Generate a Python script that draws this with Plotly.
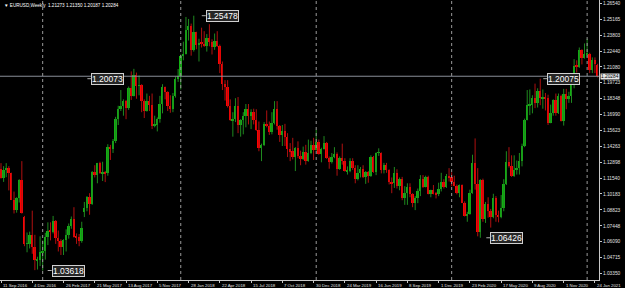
import pandas as pd
import plotly.graph_objects as go

# ---------------- data (EURUSD weekly) ----------------
start_week = "2016-09-11"
opens = [1.1233,1.1155,1.1226,1.1240,1.1200,1.0970,1.0885,1.0985,1.1140,1.0820,
         1.0590,1.0590,1.0665,1.0560,1.0450,1.0455,1.0520,1.0530,1.0645,1.0705,
         1.0695,1.0785,1.0640,1.0615,1.0560,1.0620,1.0670,1.0740,1.0800,1.0650,
         1.0645,1.0615,1.0860,1.0895,1.0995,1.0935,1.1205,1.1180,1.1280,1.1195,
         1.1200,1.1195,1.1425,1.1400,1.1470,1.1665,1.1750,1.1775,1.1820,1.1760,
         1.1925,1.1860,1.2035,1.1945,1.1950,1.1815,1.1730,1.1820,1.1785,1.1605,
         1.1610,1.1665,1.1790,1.1935,1.1895,1.1770,1.1750,1.1860,1.2005,1.2030,
         1.2200,1.2220,1.2425,1.2460,1.2250,1.2405,1.2295,1.2315,1.2305,1.2285,
         1.2355,1.2320,1.2280,1.2330,1.2290,1.2130,1.1960,1.1940,1.1770,1.1650,
         1.1660,1.1770,1.1610,1.1655,1.1685,1.1745,1.1685,1.1720,1.1655,1.1565,
         1.1410,1.1440,1.1620,1.1600,1.1550,1.1625,1.1745,1.1605,1.1525,1.1560,
         1.1510,1.1400,1.1385,1.1335,1.1415,1.1340,1.1315,1.1380,1.1305,1.1370,
         1.1440,1.1395,1.1465,1.1365,1.1405,1.1455,1.1325,1.1295,1.1335,1.1365,
         1.1235,1.1325,1.1300,1.1215,1.1215,1.1300,1.1245,1.1150,1.1200,1.1235,
         1.1160,1.1205,1.1170,1.1335,1.1210,1.1370,1.1370,1.1225,1.1270,1.1220,
         1.1125,1.1110,1.1200,1.1090,1.1145,1.0985,1.1030,1.1075,1.1020,1.0940,
         1.0980,1.1040,1.1145,1.1080,1.1165,1.1020,1.1050,1.1020,1.1015,1.1060,
         1.1120,1.1080,1.1175,1.1160,1.1120,1.1090,1.1025,1.1095,1.0945,1.0830,
         1.0845,1.1025,1.1285,1.1105,1.0695,1.1140,1.0805,1.0935,1.0875,1.0820,
         1.0980,1.0840,1.0820,1.0900,1.1100,1.1290,1.1255,1.1175,1.1220,1.1245,
         1.1300,1.1430,1.1655,1.1780,1.1785,1.1840,1.1795,1.1905,1.1840,1.1845,
         1.1840,1.1630,1.1715,1.1825,1.1715,1.1860,1.1645,1.1875,1.1835,1.1860,
         1.1960,1.2120,1.2110,1.2255,1.2185,1.2215,1.2220,1.2080,1.2170,1.21273]
highs = [1.1283,1.1257,1.1283,1.1257,1.1201,1.1039,1.0990,1.1145,1.1300,1.0830,
         1.0688,1.0695,1.0875,1.0668,1.0480,1.0655,1.0620,1.0685,1.0775,1.0775,
         1.0830,1.0795,1.0705,1.0630,1.0630,1.0715,1.0765,1.0825,1.0905,1.0680,
         1.0675,1.0780,1.0950,1.1000,1.1025,1.1215,1.1265,1.1285,1.1295,1.1295,
         1.1215,1.1445,1.1440,1.1490,1.1680,1.1775,1.1910,1.1830,1.1825,1.1940,
         1.2070,1.2092,1.2060,1.2035,1.1960,1.1830,1.1880,1.1860,1.1880,1.1690,
         1.1675,1.1860,1.1960,1.1940,1.1900,1.1865,1.1885,1.2025,1.2090,1.2215,
         1.2325,1.2537,1.2520,1.2480,1.25478,1.2410,1.2350,1.2445,1.2415,1.2390,
         1.2475,1.2345,1.2395,1.2415,1.2300,1.2155,1.1995,1.1995,1.1830,1.1720,
         1.1840,1.1850,1.1660,1.1720,1.1790,1.1790,1.1745,1.1750,1.1745,1.1640,
         1.1450,1.1635,1.1735,1.1640,1.1720,1.1815,1.1815,1.1610,1.1610,1.1620,
         1.1540,1.1455,1.1500,1.1420,1.1470,1.1390,1.1425,1.1440,1.1485,1.1475,
         1.1500,1.1570,1.1485,1.1415,1.1515,1.1465,1.1340,1.1370,1.1420,1.1375,
         1.1340,1.1450,1.1325,1.1255,1.1325,1.1325,1.1265,1.1265,1.1250,1.1265,
         1.1215,1.1215,1.1350,1.1345,1.1375,1.1410,1.1375,1.1285,1.1285,1.1230,
         1.1160,1.1250,1.1230,1.1160,1.1165,1.1085,1.1110,1.1110,1.1025,1.1000,
         1.1065,1.1180,1.1180,1.1175,1.1175,1.1055,1.1095,1.1035,1.1115,1.1200,
         1.1145,1.1190,1.1240,1.1205,1.1175,1.1100,1.1100,1.1100,1.0955,1.0865,
         1.1055,1.1355,1.1495,1.1240,1.1145,1.1150,1.0950,1.0990,1.0890,1.1020,
         1.1000,1.0875,1.1010,1.1145,1.1385,1.1420,1.1350,1.1350,1.1305,1.1370,
         1.1450,1.1665,1.1910,1.1915,1.1865,1.1965,1.1925,1.20075,1.1915,1.1885,
         1.1870,1.1785,1.1830,1.1880,1.1880,1.1870,1.1920,1.1920,1.1895,1.1965,
         1.2175,1.2165,1.2275,1.2260,1.2310,1.2350,1.2230,1.2190,1.2190,1.21350]
lows = [1.1150,1.1122,1.1162,1.1049,1.0966,1.0851,1.0858,1.0945,1.0850,1.0570,
        1.0518,1.0551,1.0505,1.0365,1.0370,1.0400,1.03618,1.0455,1.0580,1.0620,
        1.0680,1.0590,1.0525,1.0495,1.0495,1.0525,1.0635,1.0720,1.0645,1.0590,
        1.0570,1.0600,1.0820,1.0870,1.0840,1.0925,1.1160,1.1110,1.1190,1.1130,
        1.1120,1.1175,1.1310,1.1370,1.1455,1.1610,1.1730,1.1690,1.1660,1.1740,
        1.1825,1.1855,1.1835,1.1865,1.1720,1.1670,1.1725,1.1730,1.1575,1.1590,
        1.1555,1.1630,1.1710,1.1830,1.1730,1.1715,1.1720,1.1845,1.1980,1.1915,
        1.2165,1.2215,1.2335,1.2205,1.2240,1.2260,1.2155,1.2275,1.2280,1.2240,
        1.2285,1.2215,1.2255,1.2280,1.2055,1.1910,1.1820,1.1760,1.1645,1.1510,
        1.1635,1.1540,1.1510,1.1530,1.1590,1.1615,1.1575,1.1615,1.1560,1.1385,
        1.1300,1.1430,1.1590,1.1525,1.1530,1.1615,1.1570,1.1465,1.1430,1.1430,
        1.1335,1.1300,1.1315,1.1215,1.1325,1.1265,1.1310,1.1270,1.1295,1.1360,
        1.1310,1.1390,1.1355,1.1290,1.1400,1.1320,1.1235,1.1280,1.1325,1.1175,
        1.1225,1.1270,1.1210,1.1185,1.1205,1.1225,1.1110,1.1135,1.1160,1.1155,
        1.1105,1.1115,1.1165,1.1200,1.1180,1.1345,1.1195,1.1195,1.1200,1.1100,
        1.1025,1.1070,1.1065,1.1050,1.0965,1.0925,1.0925,1.0990,1.0905,1.0880,
        1.0940,1.1000,1.1070,1.1075,1.1015,1.0990,1.1015,1.0980,1.1000,1.1040,
        1.1065,1.1070,1.1125,1.1085,1.1085,1.1015,1.0990,1.0940,1.0825,1.0780,
        1.0840,1.1020,1.1055,1.0655,1.06426,1.0780,1.0770,1.0815,1.0730,1.0810,
        1.0780,1.0775,1.0810,1.0870,1.1095,1.1245,1.1165,1.1165,1.1185,1.1185,
        1.1255,1.1420,1.1650,1.1695,1.1710,1.1755,1.1760,1.1780,1.1750,1.1735,
        1.1610,1.1625,1.1690,1.1690,1.1705,1.1640,1.1605,1.1745,1.1800,1.1800,
        1.1925,1.2060,1.2100,1.2130,1.2180,1.2190,1.2055,1.2055,1.2055,1.20187]
closes = [1.1155,1.1226,1.1240,1.1200,1.0970,1.0885,1.0985,1.1140,1.0855,1.0590,
          1.0590,1.0665,1.0560,1.0450,1.0455,1.0520,1.0530,1.0645,1.0705,1.0695,
          1.0785,1.0640,1.0615,1.0560,1.0620,1.0670,1.0740,1.0800,1.0650,1.0645,
          1.0615,1.0725,1.0895,1.0995,1.0935,1.1205,1.1180,1.1280,1.1195,1.1200,
          1.1195,1.1425,1.1400,1.1470,1.1665,1.1750,1.1775,1.1820,1.1760,1.1925,
          1.1860,1.2035,1.1945,1.1950,1.1815,1.1730,1.1820,1.1785,1.1605,1.1610,
          1.1665,1.1790,1.1935,1.1895,1.1770,1.1750,1.1860,1.2005,1.2030,1.2200,
          1.2220,1.2425,1.2460,1.2250,1.2405,1.2295,1.2315,1.2305,1.2285,1.2355,
          1.2320,1.2280,1.2330,1.2290,1.2130,1.1960,1.1940,1.1770,1.1650,1.1660,
          1.1770,1.1610,1.1655,1.1685,1.1745,1.1685,1.1720,1.1655,1.1565,1.1410,
          1.1440,1.1620,1.1600,1.1550,1.1625,1.1745,1.1605,1.1525,1.1560,1.1510,
          1.1400,1.1385,1.1335,1.1415,1.1340,1.1315,1.1380,1.1305,1.1370,1.1440,
          1.1395,1.1465,1.1365,1.1405,1.1455,1.1325,1.1295,1.1335,1.1365,1.1235,
          1.1325,1.1300,1.1215,1.1215,1.1300,1.1245,1.1150,1.1200,1.1235,1.1160,
          1.1205,1.1170,1.1335,1.1210,1.1370,1.1370,1.1225,1.1270,1.1220,1.1125,
          1.1110,1.1200,1.1090,1.1145,1.0985,1.1030,1.1075,1.1020,1.0940,1.0980,
          1.1040,1.1145,1.1080,1.1165,1.1020,1.1050,1.1020,1.1015,1.1060,1.1120,
          1.1080,1.1175,1.1160,1.1120,1.1090,1.1025,1.1095,1.0945,1.0830,1.0845,
          1.1025,1.1285,1.1105,1.0695,1.1140,1.0805,1.0935,1.0875,1.0820,1.0980,
          1.0840,1.0820,1.0900,1.1100,1.1290,1.1255,1.1175,1.1220,1.1245,1.1300,
          1.1430,1.1655,1.1780,1.1785,1.1840,1.1795,1.1905,1.1840,1.1845,1.1840,
          1.1630,1.1715,1.1825,1.1715,1.1860,1.1645,1.1875,1.1835,1.1860,1.1960,
          1.2120,1.2110,1.2255,1.2185,1.2215,1.2220,1.2080,1.2170,1.2135,1.20284]

y_tick_vals = [1.26540,1.25165,1.23803,1.22440,1.21080,1.19723,1.18348,1.16990,1.15623,
               1.14263,1.12898,1.11540,1.10183,1.08823,1.07448,1.06090,1.04715,1.03350]
x_tick_dates = ["2016-09-11","2016-12-04","2017-02-26","2017-05-21","2017-08-13","2017-11-05",
                "2018-01-28","2018-04-22","2018-07-15","2018-10-07","2018-12-30","2019-03-24",
                "2019-06-16","2019-09-08","2019-12-01","2020-02-23","2020-05-17","2020-08-09",
                "2020-11-01","2021-01-24"]
bid_price = 1.20284
title_text = "▼ EURUSD,Weekly  1.21273 1.21350 1.20187 1.20284"
# price labels: (week index, price, pixel offset of box)
price_labels = [(74, 1.25478, 9), (32, 1.20073, 4), (16, 1.03618, 6), (184, 1.06426, 7), (207, 1.20075, 4)]

n = len(closes)
assert len(opens) == len(highs) == len(lows) == n
dates = pd.date_range(start=start_week, periods=n, freq="7D")
tick_dates = pd.to_datetime(x_tick_dates)

# ---------------- styling ----------------
BULL_BODY, BULL_WICK = "#12b012", "#1f8a1f"
BEAR_BODY, BEAR_WICK = "#ff0000", "#b01010"
FONT = "Liberation Sans, Arial, sans-serif"
AXIS_TEXT = "#e0e0e0"

fig = go.Figure()

# wicks
for bull, col in ((True, BULL_WICK), (False, BEAR_WICK)):
    xs, ys = [], []
    for d, o, h, l, c in zip(dates, opens, highs, lows, closes):
        if (c >= o) == bull:
            xs += [d, d, None]
            ys += [l, h, None]
    fig.add_trace(go.Scatter(x=xs, y=ys, mode="lines", line=dict(color=col, width=1),
                             hoverinfo="skip", showlegend=False))

# bodies
base = [min(o, c) for o, c in zip(opens, closes)]
height = [max(abs(c - o), 0.0006) for o, c in zip(opens, closes)]
colors = [BULL_BODY if c >= o else BEAR_BODY for o, c in zip(opens, closes)]
fig.add_trace(go.Bar(x=dates, y=height, base=base, marker=dict(color=colors, line=dict(width=0)),
                     width=5 * 86400000, showlegend=False))

# x range: 2.605 px per week, plot 599 px wide
px_per_day = 2.605 / 7
x0 = dates[0] - pd.Timedelta(days=1 / px_per_day)
x1 = x0 + pd.Timedelta(days=599 / px_per_day)

# year separators (first bar of each year)
shapes = []
for i in range(1, n):
    if dates[i].year != dates[i - 1].year:
        shapes.append(dict(type="line", xref="x", yref="paper", x0=dates[i], x1=dates[i], y0=0, y1=1,
                           line=dict(color="#9a9a9a", width=1, dash="dot")))
# bid line
shapes.append(dict(type="line", xref="paper", yref="y", x0=0, x1=1, y0=bid_price, y1=bid_price,
                   line=dict(color="#8a8f98", width=1)))

annotations = [
    dict(xref="paper", yref="paper", x=0, y=1, xanchor="left", yanchor="top", xshift=2, yshift=-1,
         text=title_text, showarrow=False, font=dict(family=FONT, size=4.6, color="#ffffff")),
    dict(xref="paper", yref="y", x=1, y=bid_price, xanchor="left", yanchor="middle", xshift=1,
         text=f"{bid_price:.5f}", showarrow=False, bgcolor="#e6e6e6", borderpad=0,
         font=dict(family=FONT, size=4.8, color="#000000")),
]
# date labels, left-aligned at their ticks (MT4 style)
for d in tick_dates:
    annotations.append(dict(xref="x", yref="paper", x=d, y=0, xanchor="left", yanchor="top",
                            yshift=-1, xshift=0, showarrow=False,
                            text=f"{d.day} {d.strftime('%b %Y')}",
                            font=dict(family=FONT, size=4.3, color=AXIS_TEXT)))
for idx, price, off in price_labels:
    annotations.append(dict(
        xref="x", yref="y", x=dates[idx], y=price, text=f"{price:.5f}",
        showarrow=True, arrowhead=0, arrowwidth=1, arrowcolor="#b0b0b0",
        ax=off + 3, ay=0, axref="pixel", ayref="pixel", standoff=off - 1 if off > 3 else 1,
        xanchor="left", yanchor="middle",
        bgcolor="#262626", bordercolor="#d0d0d0", borderwidth=1, borderpad=0,
        font=dict(family=FONT, size=8.5, color="#ffffff")))

fig.update_layout(
    width=625, height=288, margin=dict(l=0, r=26, t=0, b=8),
    paper_bgcolor="#000000", plot_bgcolor="#000000",
    showlegend=False, bargap=0, shapes=shapes, annotations=annotations,
    xaxis=dict(type="date", range=[x0, x1], tickvals=list(tick_dates), showticklabels=False,
               showline=True, linecolor="#c8c8c8", linewidth=1, mirror=False,
               ticks="outside", ticklen=2, tickcolor="#c8c8c8", showgrid=False, zeroline=False,
               automargin=False, fixedrange=True, rangeslider=dict(visible=False)),
    yaxis=dict(side="right", range=[1.02803, 1.26825], tickvals=y_tick_vals,
               ticktext=[f"{v:.5f}" for v in y_tick_vals],
               tickfont=dict(family=FONT, size=4.8, color=AXIS_TEXT),
               showline=True, linecolor="#c8c8c8", linewidth=1,
               ticks="outside", ticklen=2, tickcolor="#c8c8c8", showgrid=False, zeroline=False,
               automargin=False, fixedrange=True),
)

fig.write_html("out.html")
